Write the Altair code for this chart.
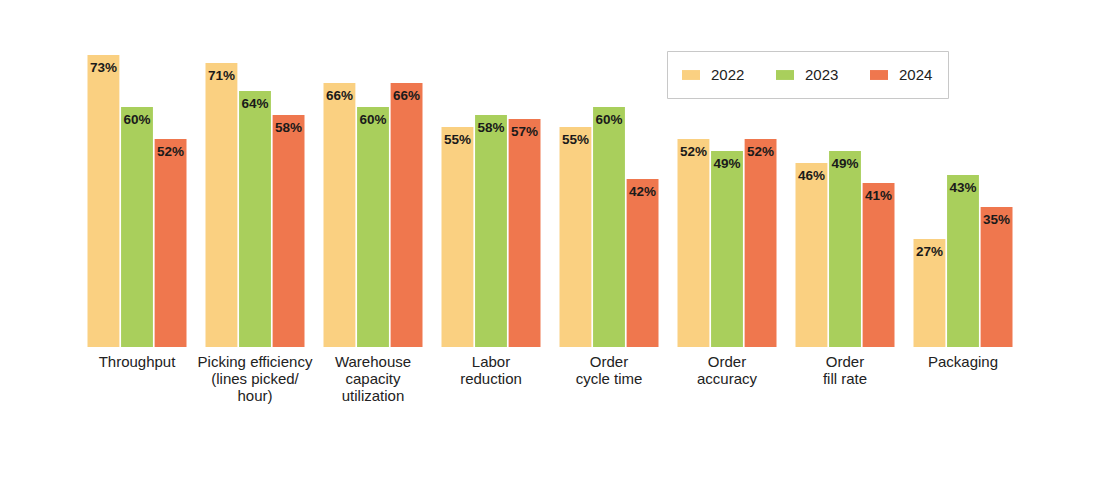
import altair as alt
import pandas as pd

categories = [
    "Throughput",
    "Picking efficiency|(lines picked/|hour)",
    "Warehouse|capacity|utilization",
    "Labor|reduction",
    "Order|cycle time",
    "Order|accuracy",
    "Order|fill rate",
    "Packaging",
]
years = ["2022", "2023", "2024"]
values_2022 = [73, 71, 66, 55, 55, 52, 46, 27]
values_2023 = [60, 64, 60, 58, 60, 49, 49, 43]
values_2024 = [52, 58, 66, 57, 42, 52, 41, 35]
colors = ["#FAD081", "#A9CF5C", "#EF774E"]

rows = []
for year, vals in zip(years, [values_2022, values_2023, values_2024]):
    for cat, v in zip(categories, vals):
        rows.append({"category": cat, "year": year, "value": v, "label": f"{v}%"})
data = pd.DataFrame(rows)

font = "Liberation Sans"

base = alt.Chart(data).encode(
    x=alt.X(
        "category:N",
        sort=categories,
        title=None,
        scale=alt.Scale(paddingInner=0.161, paddingOuter=0.0805),
        axis=alt.Axis(
            labelExpr="split(datum.label, '|')",
            labelAngle=0,
            labelFontSize=15,
            labelLineHeight=17,
            labelColor="#222222",
            labelFont=font,
            labelPadding=7,
            ticks=False,
            domain=False,
            labelLimit=200,
        ),
    ),
    xOffset=alt.XOffset("year:N", sort=years, scale=alt.Scale(paddingInner=0.05)),
    y=alt.Y(
        "value:Q",
        axis=None,
        scale=alt.Scale(domain=[0, 73], nice=False),
    ),
)

bars = base.mark_bar().encode(
    color=alt.Color(
        "year:N",
        sort=years,
        title=None,
        scale=alt.Scale(domain=years, range=colors),
        legend=alt.Legend(
            orient="none",
            legendX=589,
            legendY=-4,
            direction="horizontal",
            symbolType="M-1,-0.55H1V0.55H-1Z",
            symbolSize=324,
            symbolStrokeWidth=0,
            labelFontSize=15,
            labelFont=font,
            labelColor="#222222",
            labelOffset=11,
            columnPadding=31,
            padding=15,
            strokeColor="#c8c8c8",
            fillColor="white",
        ),
    )
)

labels = base.mark_text(
    baseline="middle",
    dy=13,
    fontSize=13.5,
    fontWeight="bold",
    font=font,
    color="#1a1a1a",
).encode(text="label:N")

chart = (
    alt.layer(bars, labels)
    .properties(
        width=944,
        height=292,
        autosize=alt.AutoSizeParams(type="none"),
        padding={"left": 70, "top": 47, "right": 70, "bottom": 120},
    )
    .configure_view(stroke=None)
)

chart.save("out.html", embed_options={"renderer": "svg", "actions": False})
